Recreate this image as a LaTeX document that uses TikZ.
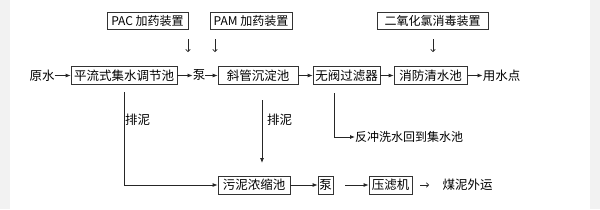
\documentclass[tikz,border=0pt]{standalone}
\usepackage{fontspec}
\setmainfont{Noto Sans CJK SC}
\usetikzlibrary{arrows.meta}
\begin{document}
\begin{tikzpicture}[x=1pt,y=-1pt,
 box/.style={draw=black!80,line width=0.8pt,inner sep=0pt,minimum height=18pt,font=\fontsize{12.5}{13}\selectfont},
 topbox/.style={box,minimum height=17pt,font=\fontsize{12}{13}\selectfont},
 lbl/.style={inner sep=0pt,font=\fontsize{12.5}{13}\selectfont},
 small/.style={inner sep=0pt,font=\fontsize{12}{12}\selectfont},
 arr/.style={line width=0.8pt,draw=black!85,-{Latex[length=5pt,width=4pt]}},
 thinarr/.style={line width=0.7pt,draw=black!85,-{To[length=3pt,width=5pt]}}]
\fill[black!5] (0,0) rectangle (600,209);
\fill[white] (10,0) rectangle (590,209);
\useasboundingbox (0,0) rectangle (600,209);
% top dosing boxes
\node[topbox,minimum width=81pt] (pac) at (147.5,20.5) {PAC 加药装置};
\node[topbox,minimum width=82pt] (pam) at (251,20.5) {PAM 加药装置};
\node[topbox,minimum width=111pt] (clo) at (432.5,20.5) {二氧化氯消毒装置};
\coordinate (pacA) at (188,39); \coordinate (pacB) at (188,52);
\coordinate (pamA) at (215,39); \coordinate (pamB) at (215,52);
\coordinate (cloA) at (433,39); \coordinate (cloB) at (433,52);
\draw[thinarr] (pacA) -- (pacB);
\draw[thinarr] (pamA) -- (pamB);
\draw[thinarr] (cloA) -- (cloB);
% main row
\node[lbl] (raw) at (42,75.5) {原水};
\node[box,minimum width=106pt] (tank) at (124,75.5) {平流式集水调节池};
\node[lbl] (pump1) at (199,75.5) {泵};
\node[box,minimum width=80pt] (sett) at (258,75.5) {斜管沉淀池};
\node[box,minimum width=67pt] (filt) at (346.5,75.5) {无阀过滤器};
\node[box,minimum width=73pt] (fire) at (430.5,75.5) {消防清水池};
\node[lbl] (use) at (501.5,75.5) {用水点};
\draw[arr] (raw.east) -- (tank.west);
\draw[arr] (tank.east) -- (pump1.west);
\draw[arr] (pump1.east) -- (sett.west);
\draw[arr] (sett.east) -- (filt.west);
\draw[arr] (filt.east) -- (fire.west);
\draw[arr] ([xshift=1pt]fire.east) -- (use.west);
% sludge row
\node[box,minimum width=72pt] (thick) at (254,185) {污泥浓缩池};
\node[box,minimum width=15pt] (pump2) at (325.5,185) {泵};
\node[box,minimum width=43pt] (press) at (390.5,185) {压滤机};
\node[lbl] (out) at (467.5,185) {煤泥外运};
\draw[arr] (thick.east) -- (pump2.west);
\coordinate (p2out) at (345,185);
\draw[arr] (p2out) -- (press.west);
\coordinate (prA) at (420,185); \coordinate (prB) at (429,185);
\draw[thinarr] (prA) -- (prB);
% sludge discharge lines
\coordinate (t1) at (124,92);
\draw[arr] (t1) |- (thick.west);
\node[lbl,anchor=west] (pn1) at (125,120) {排泥};
\coordinate (s1) at (262,100); \coordinate (s2) at (262,163);
\draw[arr] (s1) -- (s2);
\node[lbl,anchor=west] (pn2) at (267,120) {排泥};
% backwash
\coordinate (f1) at (334,93);
\node[small,anchor=west] (back) at (355,137) {反冲洗水回到集水池};
\draw[arr] (f1) |- (back.west);
\end{tikzpicture}
\end{document}
